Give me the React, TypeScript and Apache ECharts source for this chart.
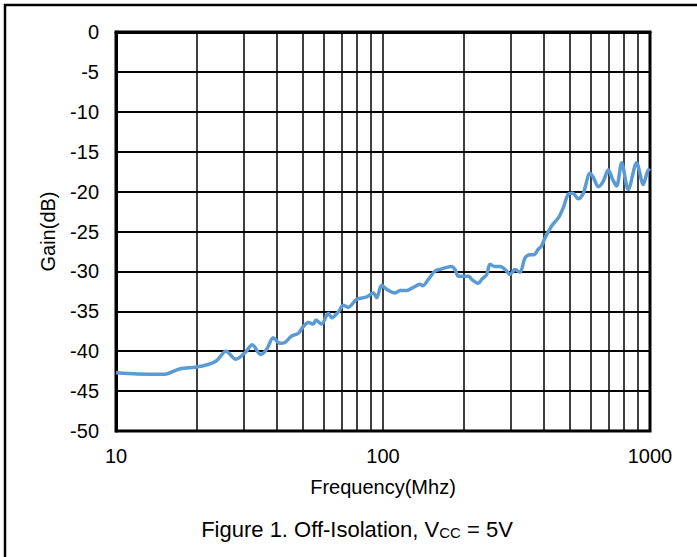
import React, { useEffect, useRef } from "react";
import * as echarts from "echarts";

const frequencies = [
  10, 12, 15, 17.4, 19.8, 22, 23.8, 25.8, 28.1, 30.4, 32.4, 34.8, 36.7, 38.8, 41.1, 42.9,
  45.5, 48.2, 50.3, 52.5, 54.8, 56.1, 58.9, 62.4, 64.2, 68, 71, 74.1, 79.7, 86.9, 92,
  94.7, 98.8, 103.3, 110.9, 116, 122.7, 129.9, 137.6, 141, 147.8, 156.6, 163.5, 173.2,
  180.8, 186.1, 191.4, 200, 208.7, 214.9, 227.5, 234.2, 244.5, 251.6, 262.7, 275, 290.4,
  299, 312.2, 326, 340.4, 355.3, 368, 381, 392.5, 404.4, 428.2, 453.5, 473.5, 494.6,
  513.3, 539, 562.6, 596, 613, 640.4, 668.6, 698, 725, 750, 783, 829, 891, 944, 987, 1000,
];
const gains = [
  -42.7, -42.85, -42.9, -42.2, -42.0, -41.7, -41.2, -40.0, -41.0, -40.2, -39.2, -40.4,
  -39.75, -38.3, -39.0, -38.9, -38.1, -37.75, -36.9, -36.4, -36.6, -36.1, -36.6, -35.25,
  -35.8, -35.1, -34.25, -34.5, -33.5, -33.2, -32.7, -33.3, -31.75, -32.25, -32.7, -32.4,
  -32.4, -32.0, -31.6, -31.8, -31.0, -29.95, -29.75, -29.5, -29.4, -29.75, -30.6, -30.6,
  -30.6, -31.0, -31.5, -31.0, -30.4, -29.1, -29.4, -29.4, -29.95, -30.4, -29.75, -30.1,
  -28.3, -27.9, -27.9, -27.25, -26.8, -25.8, -24.3, -23.3, -22.0, -20.3, -20.2, -20.9,
  -20.2, -17.7, -18.2, -19.4, -18.7, -17.25, -18.5, -19.3, -16.4, -19.75, -16.4, -19.1,
  -17.25, -17.4,
];
const minorGridFreqs = [20, 30, 40, 50, 60, 70, 80, 90, 200, 300, 400, 500, 600, 700, 800, 900];
const yTicks = { min: -50, max: 0, interval: 5 };
const xAxisTitle = "Frequency(Mhz)";
const yAxisTitle = "Gain(dB)";

const FONT = "Liberation Sans, Arial, sans-serif";

export default function App() {
  const ref = useRef<HTMLDivElement>(null);
  useEffect(() => {
    if (!ref.current) return;
    const chart = echarts.init(ref.current, undefined, { renderer: "svg" });
    const points = frequencies.map((f, i) => [f, gains[i]]);
    chart.setOption({
      animation: false,
      backgroundColor: "#fff",
      grid: {
        left: 116,
        right: 47,
        top: 32,
        bottom: 126,
        show: true,
        borderColor: "#000",
        borderWidth: 3,
        backgroundColor: "transparent",
      },
      xAxis: {
        type: "log",
        logBase: 10,
        min: 10,
        max: 1000,
        name: xAxisTitle,
        nameLocation: "middle",
        nameGap: 46,
        nameTextStyle: { fontSize: 20, color: "#000", fontFamily: FONT },
        axisLine: { show: true, lineStyle: { color: "#000", width: 3 } },
        axisTick: { show: false },
        axisLabel: {
          fontSize: 20,
          color: "#000",
          fontFamily: FONT,
          margin: 15,
          formatter: (v: number) => String(Math.round(v)),
        },
        splitLine: { show: true, lineStyle: { color: "#000", width: 1.5 } },
      },
      yAxis: {
        type: "value",
        min: yTicks.min,
        max: yTicks.max,
        interval: yTicks.interval,
        name: yAxisTitle,
        nameLocation: "middle",
        nameGap: 58,
        nameTextStyle: { fontSize: 20, color: "#000", fontFamily: FONT },
        axisLine: { show: true, lineStyle: { color: "#000", width: 3 } },
        axisTick: { show: false },
        axisLabel: { fontSize: 20, color: "#000", fontFamily: FONT, margin: 17 },
        splitLine: { show: true, lineStyle: { color: "#000", width: 2 } },
      },
      series: [
        {
          type: "line",
          data: points,
          symbol: "none",
          silent: true,
          z: 1,
          lineStyle: { opacity: 0 },
          markLine: {
            silent: true,
            symbol: ["none", "none"],
            label: { show: false },
            lineStyle: { color: "#000", width: 1.5, type: "solid" },
            data: minorGridFreqs.map((f) => ({ xAxis: f })),
          },
        },
        {
          type: "line",
          data: points,
          symbol: "none",
          smooth: 0.3,
          z: 5,
          lineStyle: { color: "#5B9BD5", width: 3.5 },
        },
      ],
      graphic: [
        {
          type: "rect",
          shape: { x: 5, y: 5, width: 720, height: 620 },
          style: { fill: "none", stroke: "#000", lineWidth: 2.5 },
          silent: true,
        },
        {
          type: "text",
          x: 357,
          y: 529,
          style: {
            text: "{n|Figure 1. Off-Isolation, V}{s|CC}{n| = 5V}",
            align: "center",
            verticalAlign: "middle",
            rich: {
              n: { fontSize: 22, fontFamily: FONT, fill: "#000", verticalAlign: "bottom" },
              s: { fontSize: 15, fontFamily: FONT, fill: "#000", verticalAlign: "bottom" },
            },
          },
        },
      ],
    });
    return () => chart.dispose();
  }, []);
  return (
    <div
      ref={ref}
      style={{ position: "fixed", left: 0, top: 0, width: 697, height: 557 }}
    />
  );
}
